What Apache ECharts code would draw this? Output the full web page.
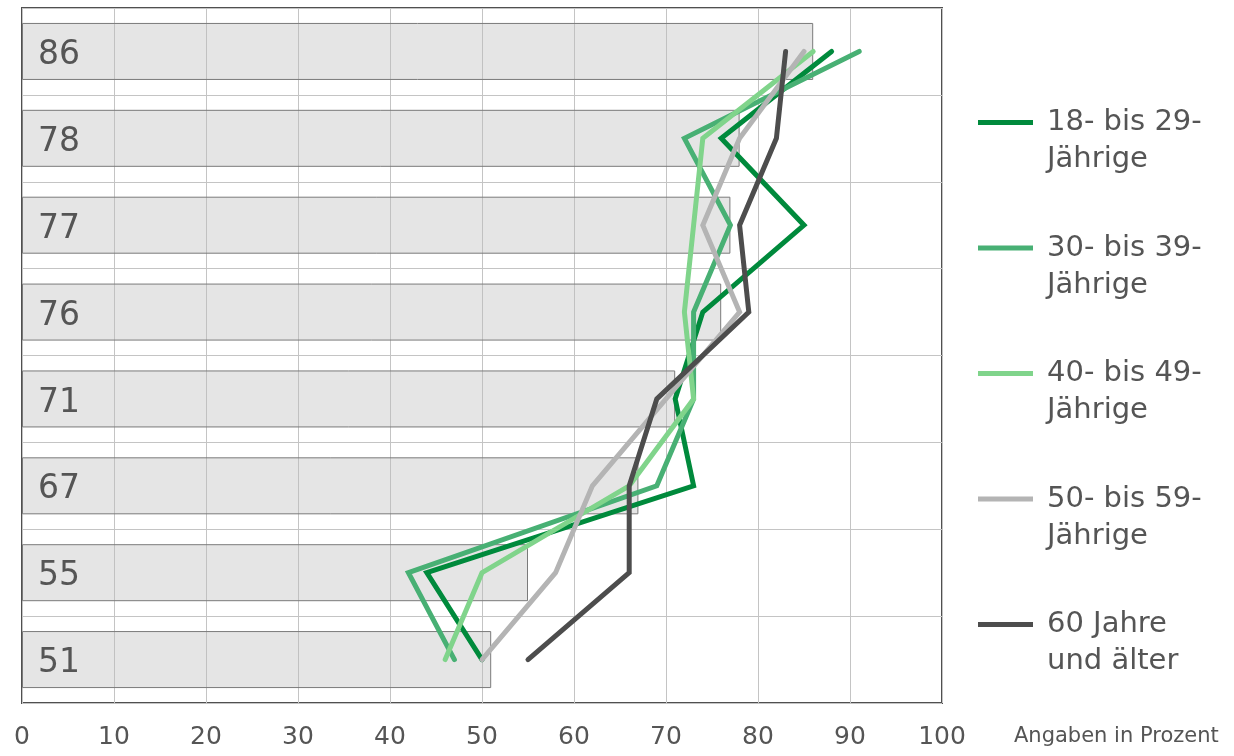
<!DOCTYPE html>
<html>
<head>
<meta charset="utf-8">
<script src="https://cdn.jsdelivr.net/npm/echarts@6/dist/echarts.min.js"></script>
<style>
  html, body { margin: 0; padding: 0; background: #fff; }
  #chart { width: 1234px; height: 756px; }
</style>
</head>
<body>
<div id="chart"></div>
<script>
// Rows from top to bottom; the bar value is printed inside each bar
const categories = ['1', '2', '3', '4', '5', '6', '7', '8'];
const barValues = [86, 78, 77, 76, 71, 67, 55, 51];

// Age groups, one line each
const group18 = [88, 76, 85, 74, 71, 73, 44, 50];
const group30 = [91, 72, 77, 73, 73, 69, 42, 47];
const group40 = [86, 74, 73, 72, 73, 66, 50, 46];
const group50 = [85, 78, 74, 78, 70, 62, 58, 50];
const group60 = [83, 82, 78, 79, 69, 66, 66, 55];

const seriesNames = ['18- bis 29-\nJährige', '30- bis 39-\nJährige', '40- bis 49-\nJährige', '50- bis 59-\nJährige', '60 Jahre\nund älter'];
const seriesColors = ['#008a3c', '#48b074', '#80d48b', '#b4b4b4', '#4d4d4d'];
const seriesData = [group18, group30, group40, group50, group60];

const xTicks = [0, 10, 20, 30, 40, 50, 60, 70, 80, 90, 100];
const unitNote = 'Angaben in Prozent';

const FONT = '"DejaVu Sans", Verdana, sans-serif';
const TEXT = '#555555';

const chart = echarts.init(document.getElementById('chart'), null, { renderer: 'canvas' });

const lineSeries = seriesNames.map((name, i) => ({
  name: name,
  type: 'line',
  data: seriesData[i],
  symbol: 'none',
  color: seriesColors[i],
  lineStyle: { width: 5, color: seriesColors[i], cap: 'round', join: 'miter' },
  z: 3 + i,
  animation: false
}));

chart.setOption({
  animation: false,
  grid: {
    left: 22, right: 292, top: 8, bottom: 53,
    show: true, borderColor: '#505050', borderWidth: 2, backgroundColor: 'transparent'
  },
  xAxis: {
    type: 'value',
    min: xTicks[0], max: xTicks[xTicks.length - 1], interval: 10,
    axisLine: { show: false },
    axisTick: { show: false },
    axisLabel: { color: TEXT, fontSize: 25, fontFamily: FONT, margin: 22 },
    splitLine: { show: true, lineStyle: { color: '#c4c4c4', width: 1 } }
  },
  yAxis: {
    type: 'category',
    data: categories,
    inverse: true,
    axisLine: { show: false },
    axisTick: { show: false },
    axisLabel: { show: false },
    splitLine: { show: true, lineStyle: { color: '#c4c4c4', width: 1 } }
  },
  legend: {
    orient: 'vertical',
    left: 978, top: 67,
    padding: 0,
    itemWidth: 55, itemHeight: 20,
    itemGap: 14.5,
    icon: 'path://M0,0 H55 V5 H0 Z',
    data: seriesNames,
    selectedMode: false,
    // a leading empty line keeps the key line level with the first text line
    formatter: name => '\n' + name,
    textStyle: {
      color: TEXT, fontSize: 29, fontFamily: FONT, lineHeight: 37,
      padding: [0, 0, 0, 9]
    }
  },
  series: [
    {
      type: 'bar',
      data: barValues,
      barWidth: 57,
      itemStyle: { color: 'rgba(190,190,190,0.4)', borderColor: '#7a7a7a', borderWidth: 1 },
      label: {
        show: true, position: 'insideLeft', distance: 16, offset: [0, 4],
        color: TEXT, fontSize: 33, fontFamily: FONT
      },
      z: 2,
      silent: true
    },
    ...lineSeries
  ],
  graphic: [
    {
      type: 'text', left: 1014, top: 726,
      style: { text: unitNote, fill: TEXT, fontSize: 21, fontFamily: FONT }
    }
  ]
});
</script>
</body>
</html>
